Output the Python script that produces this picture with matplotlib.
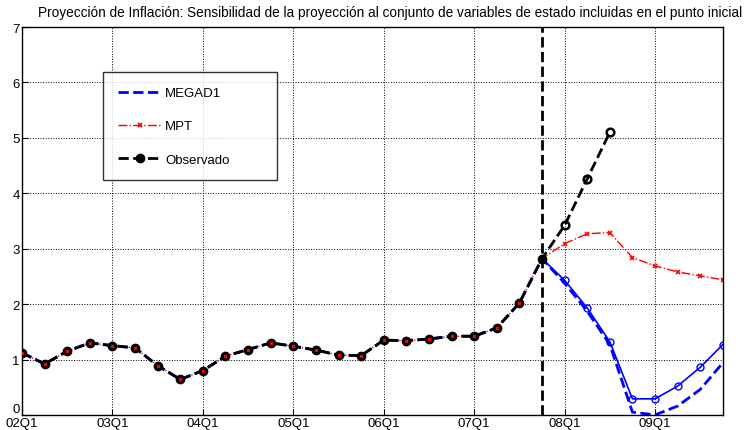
import numpy as np
import matplotlib
matplotlib.use("Agg")
import matplotlib.pyplot as plt

plt.rcParams['font.family'] = ['Liberation Sans', 'DejaVu Sans']

# quarterly axis 02Q1 .. 09Q4
quarters = np.arange(32)
tick_pos = np.arange(0, 32, 4)
tick_labels = ['02Q1', '03Q1', '04Q1', '05Q1', '06Q1', '07Q1', '08Q1', '09Q1']

# observed history (02Q1 .. 08Q3)
observado = [1.12, 0.92, 1.15, 1.30, 1.25, 1.21, 0.89, 0.64,
             0.80, 1.06, 1.18, 1.30, 1.24, 1.17, 1.08, 1.07,
             1.35, 1.34, 1.37, 1.42, 1.42, 1.57, 2.02, 2.82,
             3.42, 4.26, 5.10]

# projections from 07Q4 (index 23)
megad1_proj = [2.82, 2.38, 1.87, 1.27, 0.05, 0.0, 0.16, 0.46, 0.94]
mpt_proj = [2.82, 3.09, 3.27, 3.29, 2.84, 2.69, 2.58, 2.51, 2.44]
megad1_alt = [2.82, 2.43, 1.93, 1.32, 0.29, 0.29, 0.52, 0.86, 1.27]

start = 23
megad1 = observado[:start] + megad1_proj
mpt = observado[:start] + mpt_proj
n_obs = len(observado)

fig = plt.figure(figsize=(7.46, 4.31), dpi=100)
ax = fig.add_axes([0.0295, 0.035, 0.9395, 0.9])

ax.plot(quarters[start:], megad1_alt, '-', color='blue', lw=1.2, marker='o',
        ms=5, mfc='none', mec='blue', mew=1.0, zorder=2)
ax.plot(quarters, megad1, '--', color='blue', lw=2, label='MEGAD1', zorder=2)
ax.plot(quarters, mpt, '-.', color='red', lw=1, marker='x', ms=3.5,
        mew=1.2, label='MPT', zorder=2.5)
ax.plot(quarters[:n_obs], observado, '--', color='black', lw=2,
        marker='o', ms=6, mfc='black', label='Observado', zorder=3,
        markevery=list(range(start + 1)))
# projection-period observations drawn as rings
ax.plot(quarters[start + 1:n_obs], observado[start + 1:], 'o', ls='none',
        ms=5.5, mfc='none', mec='black', mew=1.8, zorder=3)
# MPT markers peeking through the observed dots
ax.plot(quarters[:start], mpt[:start], 'x', ls='none', color='red',
        ms=2, mew=1.0, zorder=4)
ax.axvline(start, color='black', ls='--', lw=2, zorder=5)

ax.set_xlim(0, 31)
ax.set_ylim(0, 7)
ax.set_xticks(tick_pos)
ax.set_xticklabels(tick_labels)
ax.set_yticks(range(8))
ax.tick_params(direction='in', labelsize=9.5, length=4, pad=1.5)
ax.grid(True, color='black', ls=':', lw=0.7)
for s in ax.spines.values():
    s.set_linewidth(1.0)
# lift the "0" label so it clears "02Q1"
ax.yaxis.get_major_ticks()[0].label1.set_va('bottom')

fig.text(390 / 746, 1 - 13 / 431,
         'Proyección de Inflación: Sensibilidad de la proyección al conjunto '
         'de variables de estado incluidas en el punto inicial',
         fontsize=9.8, ha='center', va='center')

handles, labels = ax.get_legend_handles_labels()
order = [labels.index(k) for k in ['MEGAD1', 'MPT', 'Observado']]
leg = ax.legend([handles[i] for i in order], [labels[i] for i in order],
                loc='upper left', bbox_to_anchor=(0.116, 0.626, 0.248, 0.257),
                mode='expand', fontsize=9.5,
                frameon=True, fancybox=False, edgecolor='black',
                borderpad=1.1, labelspacing=1.6, handlelength=3.3,
                handletextpad=0.3, borderaxespad=0)
leg.get_frame().set_linewidth(1.0)
leg.set_zorder(6)

fig.savefig('out.png', dpi=100)
